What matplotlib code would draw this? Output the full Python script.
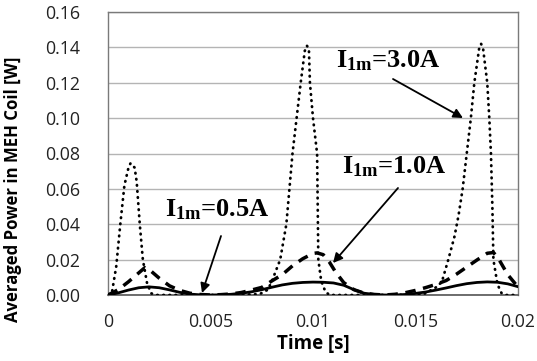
import matplotlib
matplotlib.use("Agg")
import matplotlib.pyplot as plt
from matplotlib.ticker import FixedLocator

plt.rcParams["mathtext.fontset"] = "custom"
plt.rcParams["mathtext.bf"] = "Liberation Serif:bold"
plt.rcParams["mathtext.rm"] = "Liberation Serif:bold"
plt.rcParams["mathtext.it"] = "Liberation Serif:bold"

# 3.0 A (dotted)
t_30 = [0, 0.0002, 0.0004, 0.0006, 0.0008, 0.0010, 0.0011, 0.0013, 0.0014, 0.00155,
        0.0017, 0.0019, 0.0021, 0.0023, 0.004, 0.006, 0.0074, 0.0078, 0.0080, 0.0082,
        0.0084, 0.0087, 0.00885, 0.0090, 0.0092, 0.0094, 0.0096, 0.0097, 0.0098, 0.00985,
        0.0100, 0.0102, 0.01023, 0.01026, 0.0104, 0.0106, 0.0108, 0.012, 0.014, 0.0154,
        0.0158, 0.0161, 0.0163, 0.0166, 0.0169, 0.0171, 0.0173, 0.0175, 0.0177, 0.01787,
        0.0181, 0.0182, 0.0183, 0.0185, 0.0186, 0.01868, 0.01875, 0.0188, 0.0190, 0.0192,
        0.0194, 0.0200]
p_30 = [0, 0.002, 0.016, 0.040, 0.062, 0.072, 0.0745, 0.072, 0.064, 0.040,
        0.020, 0.007, 0.001, 0, 0, 0, 0.0005, 0.003, 0.008, 0.014,
        0.020, 0.040, 0.060, 0.080, 0.100, 0.120, 0.138, 0.141, 0.139, 0.120,
        0.100, 0.080, 0.050, 0.020, 0.008, 0.002, 0, 0, 0, 0.0005,
        0.003, 0.005, 0.008, 0.020, 0.033, 0.045, 0.060, 0.080, 0.100, 0.120,
        0.139, 0.142, 0.139, 0.120, 0.100, 0.080, 0.050, 0.020, 0.006, 0.001,
        0, 0]

# 1.0 A (dashed)
t_10 = [0, 0.0005, 0.0010, 0.0015, 0.0018, 0.0020, 0.0025, 0.0030, 0.0035, 0.0040,
        0.0045, 0.0050, 0.0055, 0.0060, 0.0065, 0.0070, 0.0075, 0.0080, 0.0085, 0.0090,
        0.0095, 0.0100, 0.0102, 0.0105, 0.0108, 0.0111, 0.0115, 0.0120, 0.0125, 0.0130,
        0.0135, 0.0140, 0.0145, 0.0150, 0.0155, 0.0160, 0.0165, 0.0170, 0.0175, 0.0180,
        0.0185, 0.0188, 0.0190, 0.0195, 0.0200]
p_10 = [0, 0.003, 0.0075, 0.0125, 0.0155, 0.0145, 0.0095, 0.0052, 0.0026, 0.0010,
        0.0003, 0, 0.0002, 0.0006, 0.0014, 0.0028, 0.0043, 0.0080, 0.0115, 0.0165,
        0.0205, 0.0235, 0.0238, 0.0228, 0.0186, 0.0130, 0.0070, 0.0030, 0.0010, 0.0003,
        0, 0.0004, 0.0013, 0.0026, 0.0042, 0.0060, 0.0082, 0.0118, 0.0158, 0.0198,
        0.0236, 0.0240, 0.0215, 0.0115, 0.0045]

# 0.5 A (solid)
t_05 = [0, 0.0005, 0.0010, 0.0015, 0.0020, 0.0025, 0.0030, 0.0035, 0.0040, 0.0045,
        0.0050, 0.0055, 0.0060, 0.0065, 0.0070, 0.0075, 0.0080, 0.0085, 0.0090, 0.0095,
        0.0100, 0.0105, 0.0110, 0.0115, 0.0120, 0.0125, 0.0130, 0.0135, 0.0140, 0.0145,
        0.0150, 0.0155, 0.0160, 0.0165, 0.0170, 0.0175, 0.0180, 0.0185, 0.0190, 0.0195,
        0.0200]
p_05 = [0, 0.0012, 0.0028, 0.0041, 0.0046, 0.0041, 0.0029, 0.0015, 0.0005, 0.0001,
        0, 0.0001, 0.0004, 0.0010, 0.0018, 0.0030, 0.0044, 0.0057, 0.0066, 0.0071,
        0.0073, 0.0072, 0.0068, 0.0055, 0.0030, 0.0010, 0.0003, 0, 0, 0.0003,
        0.0009, 0.0017, 0.0028, 0.0040, 0.0053, 0.0064, 0.0071, 0.0074, 0.0072, 0.0063,
        0.0047]

x_ticks = [0, 0.005, 0.01, 0.015, 0.02]
x_tick_labels = ["0", "0.005", "0.01", "0.015", "0.02"]
y_ticks = [0.00, 0.02, 0.04, 0.06, 0.08, 0.10, 0.12, 0.14, 0.16]

fig = plt.figure(figsize=(5.37, 3.61), dpi=100)
ax = fig.add_axes([108/537, 1-295/361, 410/537, 283/361])

ax.plot(t_30, p_30, color="black", lw=2.0, linestyle=(0, (0.2, 2.0)),
        dash_capstyle="round", zorder=3)
ax.plot(t_10, p_10, color="black", lw=2.5, linestyle=(0, (3.0, 2.2)), zorder=3)
ax.plot(t_05, p_05, color="black", lw=2.0, zorder=3)

ax.set_xlim(0, 0.02)
ax.set_ylim(0, 0.16)
ax.xaxis.set_major_locator(FixedLocator(x_ticks))
ax.set_xticklabels(x_tick_labels)
ax.yaxis.set_major_locator(FixedLocator(y_ticks))
ax.set_yticklabels([f"{v:.2f}" for v in y_ticks])
ax.yaxis.grid(True, color="#b4b4b4", lw=1.0)
ax.set_axisbelow(True)
ax.tick_params(axis="both", length=0, labelsize=12.8, colors="#222222")
ax.tick_params(axis="y", pad=20)
ax.tick_params(axis="x", pad=13)
for lab in ax.get_xticklabels() + ax.get_yticklabels():
    lab.set_fontfamily("Open Sans")
for s in ["left", "top", "right"]:
    ax.spines[s].set_color("#7a7a7a")
    ax.spines[s].set_linewidth(1.0)
ax.spines["bottom"].set_color("#555555")
ax.spines["bottom"].set_linewidth(1.2)

ax.set_xlabel("Time [s]", fontfamily="Open Sans", fontweight="bold", fontsize=13.5, labelpad=2)
ax.set_ylabel("Averaged Power in MEH Coil [W]", fontfamily="Open Sans",
              fontweight="bold", fontsize=12.1)
ax.yaxis.set_label_coords(-(108 - 22) / 410, (295 - 189) / 283)

tp = dict(fontfamily="Liberation Serif", fontweight="bold", fontsize=19, color="black")
ap = dict(arrowstyle="-|>", color="black", lw=1.3, mutation_scale=14, shrinkA=0, shrinkB=0)

def px(x, y):
    return ((x - 108) / 410 * 0.02, (295 - y) / 283 * 0.16)

lab = r"I$_{\mathbf{1m}}$=%s"
ax.text(*px(336, 61), lab % "3.0A", va="center", ha="left", **tp)
ax.annotate("", xy=px(463, 118), xytext=px(393, 79), arrowprops=ap)
ax.text(*px(342, 167), lab % "1.0A", va="center", ha="left", **tp)
ax.annotate("", xy=px(333, 263), xytext=px(398, 188), arrowprops=ap)
ax.text(*px(165, 210), lab % "0.5A", va="center", ha="left", **tp)
ax.annotate("", xy=px(202, 293), xytext=px(221, 236), arrowprops=ap)

fig.savefig("out.png", dpi=100)
